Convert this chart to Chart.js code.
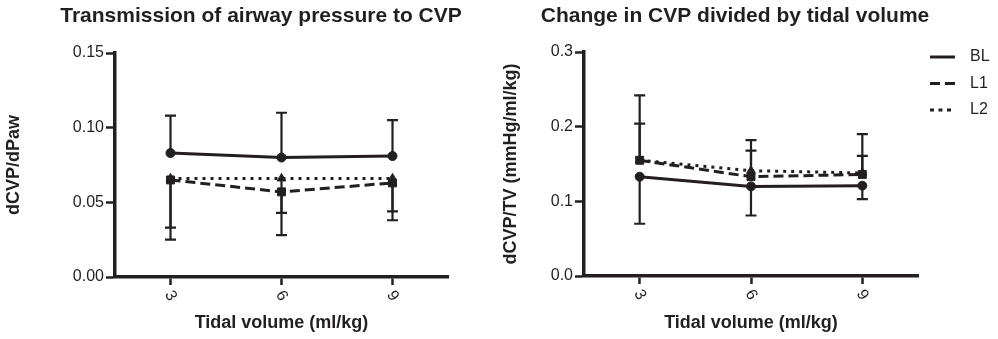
<!DOCTYPE html>
<html>
<head>
<meta charset="utf-8">
<title>CVP vs tidal volume</title>
<script src="https://cdn.jsdelivr.net/npm/chart.js@4.4.1/dist/chart.umd.min.js"></script>
<style>
  html, body { margin: 0; padding: 0; background: #fff; }
  .panel { position: absolute; top: 0; height: 339px; }
  #left { left: 0; width: 500px; }
  #right { left: 500px; width: 498px; }
</style>
</head>
<body>
<div class="panel" id="left"><canvas id="pawChart"></canvas></div>
<div class="panel" id="right"><canvas id="tvChart"></canvas></div>
<script>
const tidalVolumes = [3, 6, 9];
const xTickLabels = ['3', '6', '9'];
const seriesNames = ['BL', 'L1', 'L2'];

// dCVP/dPaw means, and where each error bar ends
const pawBL = [0.083, 0.080, 0.081];
const pawL1 = [0.065, 0.057, 0.063];
const pawL2 = [0.066, 0.066, 0.066];
const pawBLEnd = [0.108, 0.110, 0.105];
const pawL1End = [0.033, 0.043, 0.044];
const pawL2End = [0.025, 0.028, 0.038];
const pawTicks = [0, 0.05, 0.10, 0.15];

// dCVP/TV means, and where each error bar ends
const tvBL = [0.133, 0.120, 0.121];
const tvL1 = [0.155, 0.133, 0.136];
const tvL2 = [0.155, 0.141, 0.138];
const tvBLEnd = [0.070, 0.081, 0.103];
const tvL1End = [0.204, 0.168, 0.161];
const tvL2End = [0.242, 0.182, 0.190];
const tvTicks = [0, 0.1, 0.2, 0.3];

const ink = '#231f20';
const fontFamily = "'Liberation Sans', Arial, Helvetica, sans-serif";
Chart.defaults.font.family = fontFamily;
Chart.defaults.color = ink;

const lineStyles = [
    { dash: [], pointStyle: 'circle', radius: 4.5 },
    { dash: [10, 5], pointStyle: 'rect', radius: 5.6 },
    { dash: [3, 5], pointStyle: 'triangle', radius: 5 }
];

function makeDataset(i, values, ends) {
    const s = lineStyles[i];
    return {
        label: seriesNames[i],
        data: tidalVolumes.map((x, k) => ({ x: x, y: values[k] })),
        errorEnds: ends,
        borderColor: ink,
        backgroundColor: ink,
        borderWidth: 3,
        borderDash: s.dash,
        pointStyle: s.pointStyle,
        pointRadius: s.radius,
        pointHoverRadius: s.radius,
        pointBorderWidth: 1,
        tension: 0,
        fill: false
    };
}

// vertical error bars with caps, one direction per series
const errorBars = {
    id: 'errorBars',
    beforeDatasetsDraw(chart) {
        const ctx = chart.ctx;
        const xs = chart.scales.x, ys = chart.scales.y;
        ctx.save();
        ctx.strokeStyle = ink;
        ctx.lineWidth = 2.2;
        chart.data.datasets.forEach(ds => {
            ds.data.forEach((p, k) => {
                const x = xs.getPixelForValue(p.x);
                const y0 = ys.getPixelForValue(p.y);
                const y1 = ys.getPixelForValue(ds.errorEnds[k]);
                ctx.beginPath();
                ctx.moveTo(x, y0);
                ctx.lineTo(x, y1);
                ctx.moveTo(x - 5.5, y1);
                ctx.lineTo(x + 5.5, y1);
                ctx.stroke();
            });
        });
        ctx.restore();
    }
};

// x tick labels turned clockwise under the axis
const slantedTicks = {
    id: 'slantedTicks',
    afterDraw(chart) {
        const ctx = chart.ctx;
        const xs = chart.scales.x;
        ctx.save();
        ctx.fillStyle = ink;
        ctx.font = '16px ' + fontFamily;
        ctx.textAlign = 'center';
        ctx.textBaseline = 'middle';
        tidalVolumes.forEach((v, k) => {
            ctx.save();
            ctx.translate(xs.getPixelForValue(v), xs.top + 19);
            ctx.rotate(Math.PI / 3);
            ctx.fillText(xTickLabels[k], 0, 0);
            ctx.restore();
        });
        ctx.restore();
    }
};

// panel heading, centred on a fixed x
const panelTitle = {
    id: 'panelTitle',
    afterDraw(chart, args, opts) {
        const ctx = chart.ctx;
        ctx.save();
        ctx.fillStyle = ink;
        ctx.font = 'bold 21px ' + fontFamily;
        ctx.textAlign = 'center';
        ctx.textBaseline = 'middle';
        ctx.fillText(opts.text, opts.x, opts.y);
        ctx.restore();
    }
};

// line-sample legend to the right of the plot
const sideLegend = {
    id: 'sideLegend',
    afterDraw(chart, args, opts) {
        if (!opts.show) return;
        const ctx = chart.ctx;
        const left = chart.chartArea.right + 12;
        ctx.save();
        ctx.strokeStyle = ink;
        ctx.fillStyle = ink;
        ctx.lineWidth = 3;
        ctx.font = '16px ' + fontFamily;
        ctx.textBaseline = 'middle';
        chart.data.datasets.forEach((ds, i) => {
            const y = chart.chartArea.top + 5 + i * 26.5;
            ctx.setLineDash(i === 1 ? [10, 5] : i === 2 ? [4, 4.5] : []);
            ctx.beginPath();
            ctx.moveTo(left, y);
            ctx.lineTo(left + 25, y);
            ctx.stroke();
            ctx.fillText(ds.label, left + 40, y);
        });
        ctx.restore();
    }
};

function makeOptions(cfg) {
    return {
        responsive: true,
        maintainAspectRatio: false,
        animation: false,
        layout: { padding: { top: cfg.top, right: cfg.right, bottom: 0, left: 0 } },
        plugins: {
            legend: { display: false },
            tooltip: { enabled: false },
            panelTitle: { text: cfg.title, x: cfg.titleX, y: 16 },
            sideLegend: { show: cfg.legend }
        },
        scales: {
            x: {
                type: 'linear',
                min: 1.5,
                max: 10.5,
                afterBuildTicks: s => { s.ticks = tidalVolumes.map(v => ({ value: v })); },
                afterFit: s => { s.height = cfg.xHeight; },
                ticks: { display: false },
                grid: { drawOnChartArea: false, drawTicks: true, tickLength: 8, tickWidth: 2.5, tickColor: ink },
                border: { display: true, color: ink, width: 3.5 },
                title: {
                    display: true,
                    text: 'Tidal volume (ml/kg)',
                    font: { size: 18, weight: 'bold' },
                    padding: { top: 0, bottom: 5 }
                }
            },
            y: {
                min: 0,
                max: cfg.yTicks[cfg.yTicks.length - 1],
                afterBuildTicks: s => { s.ticks = cfg.yTicks.map(v => ({ value: v })); },
                afterFit: s => { s.width = cfg.yWidth; },
                ticks: {
                    font: { size: 16 },
                    padding: 2,
                    callback: v => v.toFixed(cfg.decimals)
                },
                grid: { drawOnChartArea: false, drawTicks: true, tickLength: 9, tickWidth: 2.5, tickColor: ink },
                border: { display: true, color: ink, width: 3.5 },
                title: {
                    display: true,
                    text: cfg.yTitle,
                    font: { size: 18, weight: 'bold' },
                    padding: { top: cfg.yTitlePad, bottom: 0 }
                }
            }
        }
    };
}

new Chart(document.getElementById('pawChart'), {
    type: 'line',
    data: {
        datasets: [
            makeDataset(0, pawBL, pawBLEnd),
            makeDataset(1, pawL1, pawL1End),
            makeDataset(2, pawL2, pawL2End)
        ]
    },
    options: makeOptions({
        title: 'Transmission of airway pressure to CVP', titleX: 261,
        top: 53, right: 52, xHeight: 62, yWidth: 115, yTitlePad: 3,
        yTitle: 'dCVP/dPaw', yTicks: pawTicks, decimals: 2, legend: false
    }),
    plugins: [errorBars, slantedTicks, panelTitle, sideLegend]
});

new Chart(document.getElementById('tvChart'), {
    type: 'line',
    data: {
        datasets: [
            makeDataset(0, tvBL, tvBLEnd),
            makeDataset(1, tvL1, tvL1End),
            makeDataset(2, tvL2, tvL2End)
        ]
    },
    options: makeOptions({
        title: 'Change in CVP divided by tidal volume', titleX: 235,
        top: 52, right: 80, xHeight: 63, yWidth: 84, yTitlePad: 0,
        yTitle: 'dCVP/TV (mmHg/ml/kg)', yTicks: tvTicks, decimals: 1, legend: true
    }),
    plugins: [errorBars, slantedTicks, panelTitle, sideLegend]
});
</script>
</body>
</html>
